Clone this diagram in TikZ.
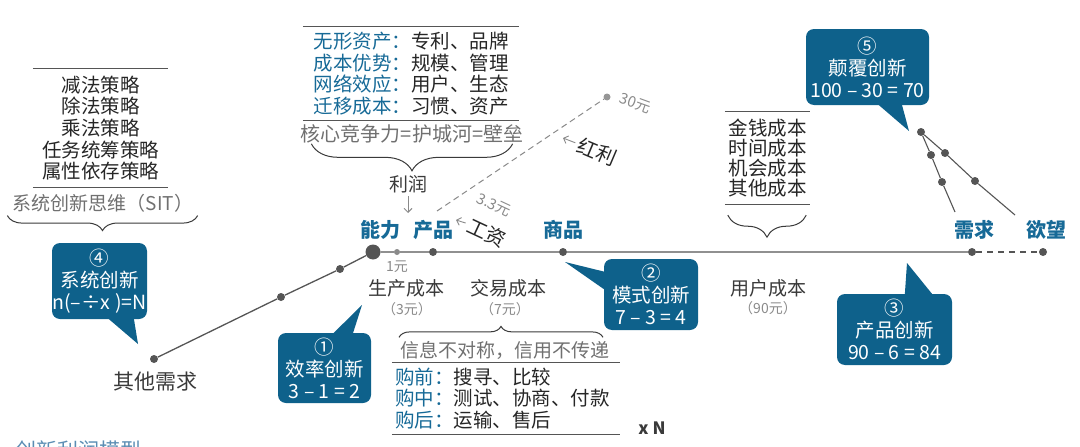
\documentclass[tikz,border=0pt]{standalone}
\usepackage{fontspec}
\setmainfont{Noto Sans CJK SC}
\usepackage{xcolor}
\usepackage{tikz}
\usetikzlibrary{positioning,calc,arrows.meta,decorations.pathreplacing}

\definecolor{deepblue}{HTML}{0E618B}
\definecolor{labelblue}{HTML}{176A97}
\definecolor{titleblue}{HTML}{5B8DB3}
\definecolor{linegray}{HTML}{555555}
\definecolor{textgray}{HTML}{3A3A3A}
\definecolor{midgray}{HTML}{707070}
\definecolor{softgray}{HTML}{8A8A8A}

\begin{document}
\begin{tikzpicture}[
    x=1pt, y=-1pt,
    >={Straight Barb[length=4pt,width=8pt]},
    font=\fontsize{19}{22}\selectfont,
    callout/.style={
        fill=deepblue,
        rounded corners=8pt,
        text=white,
        align=center,
        inner sep=0pt,
        font=\fontsize{19.5}{22}\selectfont
    },
    lbl/.style={
        text=labelblue,
        font=\fontsize{20}{22}\selectfont\bfseries
    },
    dot/.style={circle, fill=linegray, inner sep=0pt, minimum size=8pt},
    liste/.style={
        inner sep=0pt,
        align=center,
        text=black!85,
        font=\fontsize{19.5}{21.7}\selectfont
    },
    listline/.style={draw=linegray, line width=1.3pt},
    cost/.style={text=textgray},
    faint/.style={text=midgray},
    yuan/.style={text=softgray, font=\fontsize{14}{16}\selectfont},
    curly/.style={decorate, decoration={brace, amplitude=#1}, draw=textgray, line width=1pt},
    track/.style={draw=linegray, line width=1.3pt},
    arr/.style={->, draw=softgray, line width=0.9pt}
]
\useasboundingbox (0,0) rectangle (1080,447);

% left list
\node[liste, minimum width=135pt, minimum height=118pt] (sit) at (100.5,128)
{减法策略\\除法策略\\乘法策略\\任务统筹策略\\属性依存策略};
\draw[listline] (sit.north west) -- (sit.north east);
\draw[listline] (sit.south west) -- (sit.south east);
\node[faint] (sitname) at (103,203) {系统创新思维（SIT）};
\draw[curly=15pt] ($(sitname.south east)+(1,0)$) -- ($(sitname.south west)+(-2,0)$);

% top list
\node[liste, align=left, minimum width=216pt, minimum height=93pt] (moat) at (411,73.5)
{\textcolor{labelblue}{无形资产：}专利、品牌\\
\textcolor{labelblue}{成本优势：}规模、管理\\
\textcolor{labelblue}{网络效应：}用户、生态\\
\textcolor{labelblue}{迁移成本：}习惯、资产};
\draw[listline] (moat.north west) -- (moat.north east);
\draw[listline] (moat.south west) -- (moat.south east);
\node[faint, font=\fontsize{20}{22}\selectfont] (core) at (412,134) {核心竞争力=护城河=壁垒};
\draw[curly=27pt] ($(core.south east)+(-14,-3)$) -- ($(core.south west)+(14,-3)$);
\node[cost] (profit) at (408,184) {利润};
\coordinate (profitend) at (408,213);
\draw[arr] (profit.south) -- (profitend);

% right list
\node[liste, minimum width=85pt, minimum height=92pt, font=\fontsize{19.5}{20}\selectfont] (costs) at (767.5,158)
{金钱成本\\时间成本\\机会成本\\其他成本};
\draw[listline] (costs.north west) -- (costs.north east);
\draw[listline] (costs.south west) -- (costs.south east);
\draw[curly=22pt] ($(costs.south east)+(-4,11)$) -- ($(costs.south west)+(3,11)$);

% main line
\node[lbl] (ability) at (380,230) {能力};
\node[lbl] (product) at (433,230) {产品};
\node[lbl] (goods) at (563,230) {商品};
\node[lbl] (need) at (974,230) {需求};
\node[lbl] (desire) at (1046,230) {欲望};

\node[dot, minimum size=15pt] (dcap) at (373,252) {};
\node[dot, minimum size=6pt, fill=softgray] (done) at (397,252) {};
\node[dot] (dprod) at (433,252) {};
\node[dot] (dgoods) at (563,252) {};
\node[dot] (dneed) at (972,252) {};
\node[dot] (ddesire) at (1043,252) {};
\node[dot] (dl2) at (340,269) {};
\node[dot] (dl1) at (281,297) {};
\node[dot] (dother) at (154,359) {};

\draw[track] (dother) -- (dl1) -- (dl2) -- (dcap) -- (done) -- (dprod) -- (dgoods) -- (dneed);
\draw[track, dash pattern=on 6pt off 5pt] (dneed) -- (ddesire);

\node[cost, font=\fontsize{21}{22}\selectfont] (other) at (155,382) {其他需求};
\node[yuan] (one) at (397,267) {1元};
\node[cost] (prodcost) at (406,288) {生产成本};
\node[yuan] (prodyuan) at (407,309) {（3元）};
\node[cost] (tradecost) at (508,288) {交易成本};
\node[yuan] (tradeyuan) at (505,309) {（7元）};
\node[cost] (usercost) at (768,288) {用户成本};
\node[yuan] (useryuan) at (768,308) {（90元）};

% bonus and wage
\coordinate (bstart) at (437,211);
\node[dot, minimum size=7pt, fill=softgray!90] (d30) at (607,97) {};
\draw[softgray, line width=1pt, dash pattern=on 6pt off 4pt] (bstart) -- (d30);
\node[yuan, rotate=-20, font=\fontsize{15}{16}\selectfont] (y30) at (635,103) {30元};
\node[yuan, rotate=-25, font=\fontsize{15}{16}\selectfont] (y33) at (494,205) {3.3元};
\node[text=black!85, rotate=-23, font=\fontsize{20}{22}\selectfont] (bonus) at (597,152) {红利};
\coordinate (bonustip) at (563,138);
\draw[arr] (bonus.west) -- (bonustip);
\node[text=black!85, rotate=-25, font=\fontsize{20}{22}\selectfont] (wage) at (487,233) {工资};
\coordinate (wagetip) at (456,220);
\draw[arr] (wage.west) -- (wagetip);

% bottom list
\node[faint] (info) at (505,350) {信息不对称，信用不传递};
\draw[curly=11pt] ($(info.north west)+(2,0)$) -- ($(info.north east)+(-10,0)$);
\node[liste, align=left, text width=222pt, minimum height=71pt, font=\fontsize{19.5}{21.5}\selectfont] (buy) at (506,398.5)
{\textcolor{labelblue}{购前：}搜寻、比较\\
\textcolor{labelblue}{购中：}测试、协商、付款\\
\textcolor{labelblue}{购后：}运输、售后};
\draw[listline] ($(buy.north west)+(-3,0)$) -- ($(buy.north east)+(3,0)$);
\draw[listline] ($(buy.south west)+(-3,0)$) -- ($(buy.south east)+(3,0)$);
\node[cost, font=\fontsize{17}{18}\selectfont\bfseries] (xn) at (652,428) {x N};

% callouts
\node[callout, minimum width=95pt, minimum height=76pt] (c4) at (99.5,281)
{④\\系统创新\\n(–÷x )=N};
\coordinate (t4) at (138,344);
\fill[deepblue] ($(c4.south west)+(56,-1)$) -- (t4) -- ($(c4.south west)+(82,-1)$) -- cycle;

\node[callout, minimum width=93pt, minimum height=70pt] (c1) at (324.5,368)
{①\\效率创新\\3 – 1 = 2};
\coordinate (t1) at (362,305);
\fill[deepblue] ($(c1.north west)+(55,1)$) -- (t1) -- ($(c1.north west)+(75,1)$) -- cycle;

\node[callout, minimum width=94pt, minimum height=71pt] (c2) at (651,294.5)
{②\\模式创新\\7 – 3 = 4};
\coordinate (t2) at (565,262);
\fill[deepblue] ($(c2.north west)+(1,13)$) -- (t2) -- ($(c2.north west)+(1,31)$) -- cycle;

\node[callout, minimum width=115pt, minimum height=71pt] (c3) at (894.5,329.5)
{③\\产品创新\\90 – 6 = 84};
\coordinate (t3) at (907,263);
\fill[deepblue] ($(c3.north west)+(68,1)$) -- (t3) -- ($(c3.north west)+(96,1)$) -- cycle;

\node[callout, minimum width=123pt, minimum height=76pt] (c5) at (867.5,67)
{⑤\\颠覆创新\\100 – 30 = 70};
\coordinate (t5) at (909,131);
\fill[deepblue] ($(c5.south west)+(72,-1)$) -- (t5) -- ($(c5.south west)+(96,-1)$) -- cycle;

% disruption branches
\node[dot] (d5) at (921,132) {};
\node[dot] (d5a) at (931,155) {};
\node[dot] (d5b) at (942,182) {};
\node[dot] (d5c) at (945,153) {};
\node[dot] (d5d) at (975,181) {};
\coordinate (e5b) at (955,212);
\coordinate (e5d) at (1015,215);
\draw[track, line width=1.1pt] (d5) -- (d5a) -- (d5b) -- (e5b);
\draw[track, line width=1.1pt] (d5) -- (d5c) -- (d5d) -- (e5d);

% title, cut at the bottom edge
\node[anchor=west, text=titleblue, font=\fontsize{21}{22}\selectfont] (title) at (12,450) {创新利润模型};

\end{tikzpicture}
\end{document}
